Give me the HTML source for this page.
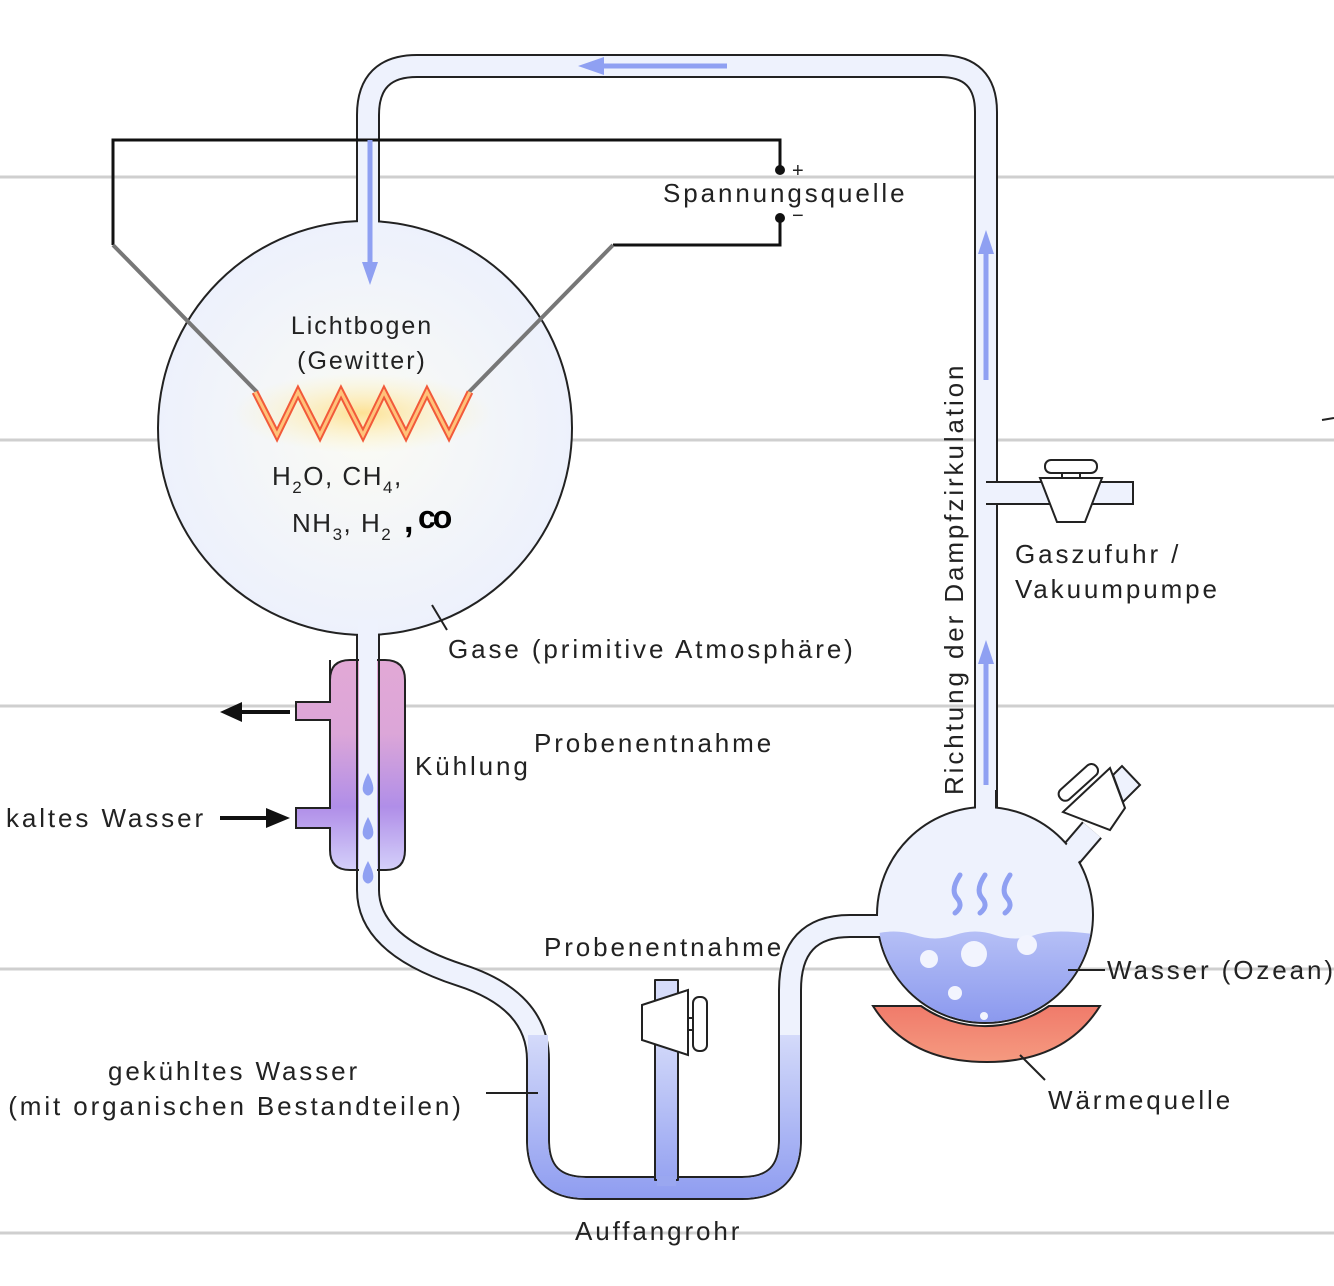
<!DOCTYPE html>
<html><head><meta charset="utf-8"><style>
html,body{margin:0;padding:0;background:#fff}
svg{display:block}
text{font-family:"Liberation Sans",sans-serif;fill:#222;letter-spacing:2.9px}
</style></head><body>
<svg width="1334" height="1286" viewBox="0 0 1334 1286" xmlns="http://www.w3.org/2000/svg">
<defs>
<linearGradient id="wat" gradientUnits="userSpaceOnUse" x1="0" y1="1030" x2="0" y2="1200">
<stop offset="0" stop-color="#d6dcfa"/><stop offset="1" stop-color="#8e9cf0"/></linearGradient>
<linearGradient id="cool" x1="0" y1="660" x2="0" y2="870" gradientUnits="userSpaceOnUse">
<stop offset="0" stop-color="#e2a8d6"/><stop offset="0.35" stop-color="#dca6d8"/><stop offset="0.7" stop-color="#b08ee8"/><stop offset="1" stop-color="#d4d0fa"/></linearGradient>
<linearGradient id="ocean" x1="0" y1="930" x2="0" y2="1025" gradientUnits="userSpaceOnUse">
<stop offset="0" stop-color="#b6c0f6"/><stop offset="1" stop-color="#8a98ee"/></linearGradient>
<linearGradient id="heat" x1="0" y1="1005" x2="0" y2="1062" gradientUnits="userSpaceOnUse">
<stop offset="0" stop-color="#f07a6a"/><stop offset="1" stop-color="#f59a80"/></linearGradient>
<radialGradient id="sph" cx="0.5" cy="0.5" r="0.5"><stop offset="0" stop-color="#fbfbf4"/><stop offset="1" stop-color="#edf1fc"/></radialGradient>
<radialGradient id="glow" cx="0.5" cy="0.5" r="0.5"><stop offset="0" stop-color="#ffd66a" stop-opacity="0.7"/><stop offset="1" stop-color="#fff3b0" stop-opacity="0"/></radialGradient>
</defs>
<g stroke="#cfcfcf" stroke-width="3">
<line x1="0" y1="177" x2="1334" y2="177"/><line x1="0" y1="440" x2="1334" y2="440"/>
<line x1="0" y1="706" x2="1334" y2="706"/><line x1="0" y1="969" x2="1334" y2="969"/>
<line x1="0" y1="1233" x2="1334" y2="1233"/></g>
<path d="M1322 420 L1334 418" stroke="#222" stroke-width="2"/>

<g fill="none" stroke-linejoin="round">
<path d="M368 240 L368 115 Q368 66 417 66 L940 66 Q986 66 986 112 L986 820" stroke="#222" stroke-width="24"/>
<path d="M368 240 L368 115 Q368 66 417 66 L940 66 Q986 66 986 112 L986 820" stroke="#eef2fd" stroke-width="20"/>
<path d="M986 493 L1134 493" stroke="#222" stroke-width="24"/>
<path d="M984 493 L1132 493" stroke="#eef2fd" stroke-width="20"/>
<path d="M368 620 L368 890 Q368 945 460 975 Q538 1000 538 1060 L538 1140 Q538 1188 586 1188 L742 1188 Q790 1188 790 1140 L790 990 Q790 926 850 926 L900 926" stroke="#222" stroke-width="24"/>
<path d="M368 620 L368 890 Q368 945 460 975 Q538 1000 538 1060 L538 1140 Q538 1188 586 1188 L742 1188 Q790 1188 790 1140 L790 990 Q790 926 850 926 L900 926" stroke="#eef2fd" stroke-width="20"/>
<path d="M538 1035 L538 1140 Q538 1188 586 1188 L742 1188 Q790 1188 790 1140 L790 1035" stroke="url(#wat)" stroke-width="20"/>
<rect x="655" y="980" width="23" height="200" fill="url(#wat)" stroke="#222" stroke-width="2"/>
<rect x="657" y="1176" width="19" height="10" fill="#9aa7f0" stroke="none"/>
</g>
<path d="M642 1005 L688 990 L688 1055 L642 1040 Z" fill="#fff" stroke="#222" stroke-width="2"/>
<rect x="693" y="997" width="14" height="54" rx="6" fill="#fff" stroke="#222" stroke-width="2"/>
<line x1="688" y1="1018" x2="693" y2="1018" stroke="#222" stroke-width="2"/><line x1="688" y1="1030" x2="693" y2="1030" stroke="#222" stroke-width="2"/>

<path d="M1040 478 L1102 478 L1085 522 L1057 522 Z" fill="#fff" stroke="#222" stroke-width="2"/>
<rect x="1045" y="460" width="52" height="13" rx="6" fill="#fff" stroke="#222" stroke-width="2"/>
<line x1="1062" y1="473" x2="1062" y2="478" stroke="#222" stroke-width="2"/><line x1="1080" y1="473" x2="1080" y2="478" stroke="#222" stroke-width="2"/>

<g fill="none" stroke="#111" stroke-width="3">
<path d="M113 245 L113 140 L780 140 L780 170"/>
<path d="M613 245 L780 245 L780 218"/></g>
<circle cx="780" cy="170" r="5" fill="#111"/><circle cx="780" cy="218" r="5" fill="#111"/>
<text x="792" y="177" font-size="20" style="letter-spacing:0">+</text>
<text x="792" y="222" font-size="20" style="letter-spacing:0">−</text>

<circle cx="365" cy="428" r="207" fill="url(#sph)" stroke="#222" stroke-width="2"/>
<rect x="358" y="200" width="20" height="30" fill="#eef2fd"/>
<rect x="358" y="620" width="20" height="25" fill="#eef2fd"/>
<g stroke="#777" stroke-width="4"><line x1="113" y1="245" x2="257" y2="392"/><line x1="613" y1="245" x2="469" y2="392"/></g>
<ellipse cx="362" cy="413" rx="130" ry="40" fill="url(#glow)"/>
<polyline points="255,392 277,435 298,392 320,435 341,392 363,435 384,392 406,435 427,392 449,435 470,392" fill="none" stroke="#f25a3a" stroke-width="7"/>
<polyline points="255,392 277,435 298,392 320,435 341,392 363,435 384,392 406,435 427,392 449,435 470,392" fill="none" stroke="#ffc27a" stroke-width="3"/>
<text x="362" y="334" font-size="25" text-anchor="middle" style="letter-spacing:2px">Lichtbogen</text>
<text x="362" y="369" font-size="25" text-anchor="middle" style="letter-spacing:2px">(Gewitter)</text>
<text x="272" y="485" font-size="26" style="letter-spacing:1.5px">H<tspan font-size="17" dy="8">2</tspan><tspan dy="-8">O, CH</tspan><tspan font-size="17" dy="8">4</tspan><tspan dy="-8">,</tspan></text>
<text x="292" y="532" font-size="26" style="letter-spacing:1.5px">NH<tspan font-size="17" dy="8">3</tspan><tspan dy="-8">, H</tspan><tspan font-size="17" dy="8">2</tspan></text>
<text x="404" y="532" font-size="34" font-weight="bold" style="fill:#000">,</text>
<text x="418" y="528" font-size="32" font-weight="bold" style="fill:#000;letter-spacing:-3px">co</text>

<g stroke="#8fa0f2" stroke-width="5" fill="#8fa0f2">
<line x1="600" y1="66" x2="727" y2="66"/><path d="M578 66 L604 57 L604 75 Z" stroke="none"/>
<line x1="370" y1="140" x2="370" y2="265"/><path d="M370 285 L362 262 L378 262 Z" stroke="none"/>
<line x1="986" y1="250" x2="986" y2="380"/><path d="M986 230 L978 254 L994 254 Z" stroke="none"/>
<line x1="986" y1="660" x2="986" y2="785"/><path d="M986 640 L978 664 L994 664 Z" stroke="none"/>
</g>

<path d="M330 660 L330 702 L296 702 L296 720 L330 720 L330 808 L296 808 L296 828 L330 828 L330 850 Q330 870 350 870 L386 870 Q405 870 405 850 L405 680 Q405 660 385 660 L350 660 Q330 660 330 680 Z" fill="url(#cool)" stroke="#222" stroke-width="2"/>
<rect x="359" y="640" width="18" height="240" fill="#eef2fd"/>
<line x1="357" y1="640" x2="357" y2="880" stroke="#222" stroke-width="2"/><line x1="379" y1="640" x2="379" y2="880" stroke="#222" stroke-width="2"/>
<g fill="#8fa0f2"><path d="M368 773 Q376 788 372 793 Q368 798 364 793 Q360 788 368 773Z"/><path d="M368 817 Q376 832 372 837 Q368 842 364 837 Q360 832 368 817Z"/><path d="M368 861 Q376 876 372 881 Q368 886 364 881 Q360 876 368 861Z"/></g>
<g fill="#111" stroke="#111" stroke-width="4"><line x1="240" y1="712" x2="290" y2="712"/><path d="M220 712 L242 702 L242 722Z" stroke="none"/>
<line x1="220" y1="818" x2="268" y2="818"/><path d="M290 818 L266 808 L266 828Z" stroke="none"/></g>

<path d="M1062 865 L1092 830" stroke="#222" stroke-width="26"/>
<path d="M1062 865 L1092 830" stroke="#eef2fd" stroke-width="22"/>
<circle cx="985" cy="915" r="108" fill="#eef2fd" stroke="#222" stroke-width="2"/>
<rect x="976" y="790" width="19" height="30" fill="#eef2fd"/>
<line x1="975" y1="790" x2="975" y2="808" stroke="#222" stroke-width="2"/><line x1="996" y1="790" x2="996" y2="808" stroke="#222" stroke-width="2"/>
<rect x="870" y="916" width="20" height="20" fill="#eef2fd"/>
<path d="M1060 868 L1082 842" stroke="#eef2fd" stroke-width="20"/>
<clipPath id="fc"><circle cx="985" cy="915" r="107"/></clipPath>
<path clip-path="url(#fc)" d="M870 935 Q895 928 915 935 Q935 942 955 935 Q975 928 995 935 Q1015 942 1035 935 Q1055 928 1100 935 L1100 1030 L870 1030Z" fill="url(#ocean)"/>
<g fill="#f2f4fe"><circle cx="929" cy="959" r="9"/><circle cx="974" cy="954" r="13"/><circle cx="1027" cy="945" r="10"/><circle cx="955" cy="993" r="7"/><circle cx="984" cy="1016" r="4"/></g>
<g fill="none" stroke="#8fa0f2" stroke-width="5" stroke-linecap="round"><path d="M960 875 Q950 890 957 898 Q964 906 955 913"/><path d="M985 875 Q975 890 982 898 Q989 906 980 913"/><path d="M1010 875 Q1000 890 1007 898 Q1014 906 1005 913"/></g>
<path d="M1063 812 L1110 768 L1125 808 L1110 830 Z" fill="#fff" stroke="#222" stroke-width="2"/>
<path d="M1113 775 L1122 766 L1140 785 L1123 802 Z" fill="#eef2fd" stroke="#222" stroke-width="2"/>
<rect x="1054" y="776" width="48" height="13" rx="6" transform="rotate(-42 1078 782)" fill="#fff" stroke="#222" stroke-width="2"/>
<path d="M873 1006 L921 1006 A112 112 0 0 0 1049 1006 L1100 1006 Q1065 1062 987 1062 Q908 1062 873 1006Z" fill="url(#heat)" stroke="#222" stroke-width="2"/>

<g stroke="#222" stroke-width="2"><line x1="432" y1="605" x2="447" y2="630"/><line x1="486" y1="1093" x2="538" y2="1093"/><line x1="1068" y1="970" x2="1105" y2="970"/><line x1="1020" y1="1055" x2="1045" y2="1080"/></g>

<g font-size="26">
<text x="663" y="202">Spannungsquelle</text>
<text x="448" y="658">Gase (primitive Atmosphäre)</text>
<text x="534" y="752">Probenentnahme</text>
<text x="415" y="775">Kühlung</text>
<text x="6" y="827">kaltes Wasser</text>
<text x="544" y="956">Probenentnahme</text>
<text x="234" y="1080" text-anchor="middle">gekühltes Wasser</text>
<text x="236" y="1115" text-anchor="middle">(mit organischen Bestandteilen)</text>
<text x="575" y="1240">Auffangrohr</text>
<text x="1015" y="563">Gaszufuhr /</text>
<text x="1015" y="598">Vakuumpumpe</text>
<text x="1107" y="979">Wasser (Ozean)</text>
<text x="1048" y="1109">Wärmequelle</text>
<text transform="translate(963 795) rotate(-90)">Richtung der Dampfzirkulation</text>
</g>
</svg>
</body></html>
